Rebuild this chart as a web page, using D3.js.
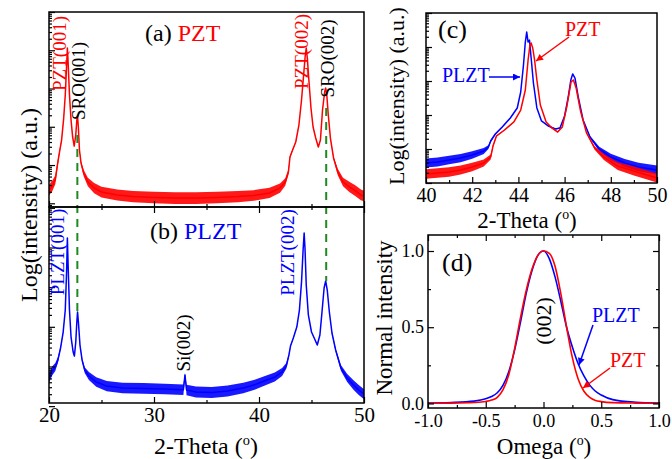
<!DOCTYPE html>
<html>
<head>
<meta charset="utf-8">
<script src="https://cdn.jsdelivr.net/npm/d3@7"></script>
<style>
  body { margin: 0; background: #fff; }
  svg text { font-family: "Liberation Serif", "Times New Roman", serif; }
</style>
</head>
<body>
<svg id="fig" width="672" height="459"></svg>
<script>
// ---------- (a) PZT full 2-theta scan ----------
const pztTheta  = [20.0,20.3,20.6,20.8,21.0,21.2,21.4,21.55,21.68,21.75,21.82,21.95,22.1,22.25,22.4,22.55,22.65,22.72,22.8,22.9,23.05,23.3,23.7,24.3,25.0,26.5,28.0,30.0,32.0,34.0,36.0,38.0,39.5,41.0,42.0,42.5,42.8,42.95,43.2,43.5,43.8,44.05,44.25,44.4,44.5,44.6,44.75,44.95,45.15,45.4,45.65,45.85,46.05,46.25,46.35,46.45,46.6,46.8,47.1,47.5,48.0,48.6,49.2,49.7,50.0];
const pztCounts = [22,28,41,100,219,451,1690,6760,41100,114500,49300,6760,1500,541,314,610,1500,1910,929,247,113,62,36,25,19.7,16.5,15,14.2,13.7,13.7,14.2,15,16,18.6,25,36,66,162,247,400,1110,5010,22500,70800,114500,62700,16700,3090,986,508,296,451,2740,8110,10300,7190,2030,508,153,66,36,26.7,21,16.5,15.5];
// noise spread of the trace (multiplicative, upper/lower envelope)
const pztSpread = [1.38,1.38,1.3,1.22,1.13,1.08,1.04,1,1,1,1,1,1.03,1.04,1.04,1.03,1,1,1,1.04,1.1,1.22,1.3,1.36,1.38,1.4,1.4,1.42,1.42,1.42,1.42,1.4,1.38,1.36,1.32,1.26,1.18,1.08,1.06,1.04,1.03,1,1,1,1,1,1,1,1.02,1.03,1.03,1.02,1,1,1,1,1,1.04,1.1,1.22,1.3,1.36,1.38,1.38,1.38];

// ---------- (b) PLZT full 2-theta scan ----------
const plztTheta  = [20.0,20.3,20.6,20.85,21.1,21.35,21.55,21.68,21.75,21.82,21.95,22.1,22.3,22.42,22.55,22.65,22.72,22.8,22.95,23.15,23.4,23.8,24.5,25.5,27.0,29.0,31.0,32.8,32.95,33.1,34.0,35.5,37.0,38.5,39.5,40.5,41.5,42.2,42.6,42.85,43.0,43.27,43.6,43.85,44.05,44.2,44.3,44.38,44.5,44.7,45.0,45.3,45.55,45.8,46.0,46.2,46.35,46.5,46.7,46.95,47.3,47.8,48.4,49.0,49.5,50.0];
const plztCounts = [51,77,97,146,292,740,2650,27100,173000,36200,2650,553,232,184,414,1320,2360,1320,347,146,81,57.5,40.5,32,28.7,28,27,26,61,25.5,22.7,22,24,28.7,34,43,54,73,103,195,328,522,989,2650,13500,86500,232000,97000,11300,1990,740,493,347,622,2360,9530,14300,8470,2360,698,260,92,51,34,25.5,20];
const plztSpread = [1.34,1.3,1.26,1.18,1.08,1.04,1,1,1,1,1,1.03,1.04,1.04,1.03,1,1,1,1.04,1.1,1.18,1.26,1.32,1.34,1.36,1.36,1.36,1.36,1.12,1.36,1.38,1.38,1.38,1.36,1.34,1.32,1.3,1.26,1.18,1.08,1.04,1.03,1.02,1,1,1,1,1,1,1,1.02,1.03,1.03,1.02,1,1,1,1,1,1.04,1.1,1.18,1.26,1.32,1.34,1.34];

// ---------- (c) 40-50 degree region, both films ----------
const zoomPlztTheta  = [40.0,40.5,41.0,41.5,42.0,42.5,42.7,42.8,43.0,43.3,43.65,43.95,44.1,44.22,44.3,44.36,44.42,44.48,44.56,44.65,44.8,45.0,45.3,45.6,45.8,46.0,46.15,46.27,46.35,46.45,46.6,46.8,47.1,47.5,48.0,48.6,49.2,50.0];
const zoomPlztCounts = [38.8,41.5,47.5,54,66.6,87,114,172,276,444,817,1610,4750,29600,140000,276000,140000,160000,41500,8730,1610,667,474,387,415,935,3160,10700,16100,12200,3160,713,225,100,58,39,29.6,24];
const zoomPlztSpread = [1.36,1.36,1.34,1.32,1.28,1.22,1.14,1.08,1.05,1.04,1.03,1,1,1,1,1,1,1,1,1,1,1.02,1.03,1.03,1.03,1.02,1,1,1,1,1,1.03,1.08,1.16,1.25,1.3,1.34,1.36];
const zoomPztTheta  = [40.0,40.5,41.0,41.5,42.0,42.5,42.8,42.9,43.05,43.4,43.8,44.1,44.3,44.42,44.5,44.55,44.62,44.7,44.8,44.95,45.2,45.45,45.7,45.9,46.1,46.28,46.38,46.5,46.7,46.95,47.3,47.7,48.3,49.0,50.0];
const zoomPztCounts = [18.4,19.7,21,24,29.6,38.8,58,122,241,362,622,1400,5430,41500,114500,131000,93500,41500,10700,1970,622,415,316,444,1840,9350,10700,6220,1220,296,107,58,31.6,22.5,14];
const zoomPztSpread = [1.38,1.38,1.38,1.36,1.34,1.26,1.18,1.08,1.05,1.04,1.03,1,1,1,1,1,1,1,1,1,1.02,1.03,1.03,1.02,1,1,1,1,1,1.04,1.12,1.22,1.3,1.36,1.36];

// ---------- (d) (002) rocking curves, normalised ----------
const omega    = [-1,-0.8,-0.6,-0.5,-0.45,-0.4,-0.35,-0.3,-0.25,-0.2,-0.15,-0.1,-0.05,0,0.05,0.1,0.15,0.2,0.25,0.3,0.35,0.4,0.45,0.5,0.6,0.8,1.0];
const pztRock  = [0.001,0.002,0.006,0.013,0.022,0.04,0.09,0.19,0.36,0.56,0.74,0.88,0.97,1.0,0.985,0.9,0.72,0.5,0.3,0.16,0.08,0.04,0.02,0.012,0.005,0.002,0.001];
const plztRock = [0.003,0.006,0.015,0.03,0.045,0.07,0.12,0.21,0.35,0.53,0.72,0.87,0.97,1.0,0.95,0.83,0.67,0.5,0.37,0.26,0.18,0.12,0.08,0.055,0.025,0.008,0.003];

// SRO reflections marked with dashed guides between (a) and (b)
const sroTheta   = [22.7, 46.4];
const sroFromPzt = [610, 3090];
const sroToPlzt  = [2360, 14300];

// tick values
const thetaMajor = [20, 30, 40, 50], thetaMinor = [25, 35, 45];
const zoomMajor  = [40, 42, 44, 46, 48, 50], zoomMinor = [41, 43, 45, 47, 49];
const omegaMajor = [-1, -0.5, 0, 0.5, 1], omegaMinor = [-0.75, -0.25, 0.25, 0.75];
const normMajor  = [0, 0.5, 1], normMinor = [0.25, 0.75];
const decades    = [1e1, 1e2, 1e3, 1e4, 1e5, 1e6];

const RED = "#ff0000", BLUE = "#0000ff", GREEN = "#1f8a1f";
const svg = d3.select("#fig");

// scales
const xAB = d3.scaleLinear([20, 50], [49, 364]);
const yA  = d3.scaleLog([8, 1e6], [207, 12]);
const yB  = d3.scaleLog([12, 1.05e6], [403, 207]);
const xC  = d3.scaleLinear([40, 50], [426, 657]);
const yC  = d3.scaleLog([10, 1e6], [183, 13]);
const xD  = d3.scaleLinear([-1, 1], [428, 659]);
const yD  = d3.scaleLinear([-0.03, 1.105], [408, 235]);

function minorLog(scale) {
  const [lo, hi] = scale.domain(), out = [];
  decades.concat([1]).forEach(d => { for (let m = 2; m <= 9; m++) { const v = d * m; if (v > lo && v < hi) out.push(v); } });
  return out;
}

const defs = svg.append("defs");
function clip(id, x, y, w, h) {
  defs.append("clipPath").attr("id", id).append("rect").attr("x", x).attr("y", y).attr("width", w).attr("height", h);
}
clip("clipA", 49, 12, 315, 195);
clip("clipB", 49, 207, 315, 196);
clip("clipC", 426, 13, 231, 170);
clip("clipD", 428, 235, 231, 173);

[["arrRed", RED], ["arrBlue", BLUE]].forEach(([id, c]) => {
  defs.append("marker").attr("id", id).attr("viewBox", "0 0 10 10").attr("refX", 10).attr("refY", 5)
    .attr("markerWidth", 9).attr("markerHeight", 7).attr("markerUnits", "userSpaceOnUse").attr("orient", "auto")
    .append("path").attr("d", "M0,0 L10,5 L0,10 Z").attr("fill", c);
});

function axis(gen, tx, ty, vals, size, fmt, pad, fs) {
  const g = svg.append("g").attr("transform", `translate(${tx},${ty})`)
    .call(gen.tickValues(vals).tickSize(-size).tickPadding(pad || 3).tickFormat(fmt || (() => "")));
  g.select(".domain").remove();
  g.selectAll("line").attr("stroke", "#000").attr("stroke-width", 1.2);
  g.selectAll("text").attr("font-family", "Liberation Serif").attr("font-size", fs || 20).attr("fill", "#000");
  return g;
}

// noisy scan: envelope band plus centre trace
function scan(x, y, theta, counts, spread, color, clipId) {
  const pts = theta.map((t, i) => ({ t, c: counts[i], s: spread[i] }));
  const g = svg.append("g").attr("clip-path", `url(#${clipId})`);
  g.append("path").datum(pts).attr("fill", color).attr("fill-opacity", 0.9)
    .attr("d", d3.area().x(d => x(d.t)).y0(d => y(d.c / d.s)).y1(d => y(d.c * d.s)));
  g.append("path").datum(pts).attr("fill", "none").attr("stroke", color).attr("stroke-width", 1.5)
    .attr("stroke-linejoin", "round").attr("d", d3.line().x(d => x(d.t)).y(d => y(d.c)));
}

function vtext(x, y, str, size, color) {
  return svg.append("text").attr("transform", `translate(${x},${y}) rotate(-90)`)
    .attr("text-anchor", "middle").attr("font-size", size).attr("fill", color).text(str);
}

function degTitle(x, y, label, size) {
  const t = svg.append("text").attr("x", x).attr("y", y).attr("text-anchor", "middle").attr("font-size", size).attr("fill", "#000");
  t.append("tspan").text(label + " (");
  t.append("tspan").attr("font-size", size * 0.6).attr("dy", -size * 0.38).text("o");
  t.append("tspan").attr("dy", size * 0.38).text(")");
  return t;
}

// ---------- curves ----------
scan(xAB, yA, pztTheta, pztCounts, pztSpread, RED, "clipA");
scan(xAB, yB, plztTheta, plztCounts, plztSpread, BLUE, "clipB");
scan(xC, yC, zoomPlztTheta, zoomPlztCounts, zoomPlztSpread, BLUE, "clipC");
scan(xC, yC, zoomPztTheta, zoomPztCounts, zoomPztSpread, RED, "clipC");

const rock = (vals) => omega.map((o, i) => ({ o, v: vals[i] }));
const gD = svg.append("g").attr("clip-path", "url(#clipD)");
gD.append("path").datum(rock(plztRock)).attr("fill", "none").attr("stroke", BLUE).attr("stroke-width", 1.6)
  .attr("d", d3.line().curve(d3.curveMonotoneX).x(d => xD(d.o)).y(d => yD(d.v)));
gD.append("path").datum(rock(pztRock)).attr("fill", "none").attr("stroke", RED).attr("stroke-width", 1.6)
  .attr("d", d3.line().curve(d3.curveMonotoneX).x(d => xD(d.o)).y(d => yD(d.v)));

// dashed SRO guides
sroTheta.forEach((t, i) => {
  svg.append("line").attr("x1", xAB(t)).attr("x2", xAB(t))
    .attr("y1", yA(sroFromPzt[i])).attr("y2", yB(sroToPlzt[i]))
    .attr("stroke", GREEN).attr("stroke-width", 2).attr("stroke-dasharray", "8,6");
});

// ---------- axes ----------
// (a)
axis(d3.axisLeft(yA), 49, 0, decades, 6);
axis(d3.axisLeft(yA), 49, 0, minorLog(yA), 3);
axis(d3.axisBottom(xAB), 0, 207, thetaMajor, 6);
axis(d3.axisBottom(xAB), 0, 207, thetaMinor, 3);
// (b)
axis(d3.axisLeft(yB), 49, 0, decades, 6);
axis(d3.axisLeft(yB), 49, 0, minorLog(yB), 3);
axis(d3.axisTop(xAB), 0, 207, thetaMajor, 6);
axis(d3.axisTop(xAB), 0, 207, thetaMinor, 3);
axis(d3.axisBottom(xAB), 0, 403, thetaMajor, 6, d => d, 4, 21);
axis(d3.axisBottom(xAB), 0, 403, thetaMinor, 3);
// (c)
axis(d3.axisLeft(yC), 426, 0, decades, 6);
axis(d3.axisLeft(yC), 426, 0, minorLog(yC), 3);
axis(d3.axisBottom(xC), 0, 183, zoomMajor, 6, d => d, 5, 20);
axis(d3.axisBottom(xC), 0, 183, zoomMinor, 3);
// (d)
axis(d3.axisLeft(yD), 428, 0, normMajor, 6, d => d.toFixed(1), 4, 18);
axis(d3.axisLeft(yD), 428, 0, normMinor, 3);
axis(d3.axisRight(yD), 659, 0, normMajor, 6);
axis(d3.axisRight(yD), 659, 0, normMinor, 3);
axis(d3.axisBottom(xD), 0, 408, omegaMajor, 6, d => d.toFixed(1), 6, 18);
axis(d3.axisBottom(xD), 0, 408, omegaMinor, 3);
axis(d3.axisTop(xD), 0, 235, omegaMajor, 6);
axis(d3.axisTop(xD), 0, 235, omegaMinor, 3);

// frames
[[49, 12, 315, 195], [49, 207, 315, 196], [426, 13, 231, 170], [428, 235, 231, 173]].forEach(([x, y, w, h]) => {
  svg.append("rect").attr("x", x).attr("y", y).attr("width", w).attr("height", h)
    .attr("fill", "none").attr("stroke", "#000").attr("stroke-width", 1.5);
});

// ---------- axis titles ----------
vtext(37, 205, "Log(intensity) (a.u.)", 24, "#000");
degTitle(206, 454, "2-Theta", 24);
vtext(404, 96, "Log(intensity) (a.u.)", 22, "#000");
degTitle(527, 228, "2-Theta", 23);
vtext(392, 318, "Normal intensity", 23, "#000");
degTitle(544, 454, "Omega", 23);

// ---------- panel labels ----------
const ta = svg.append("text").attr("x", 145).attr("y", 41).attr("font-size", 24).attr("fill", "#000");
ta.append("tspan").text("(a) ");
ta.append("tspan").attr("fill", RED).text("PZT");
const tb = svg.append("text").attr("x", 150).attr("y", 239).attr("font-size", 24).attr("fill", "#000");
tb.append("tspan").text("(b) ");
tb.append("tspan").attr("fill", BLUE).text("PLZT");
svg.append("text").attr("x", 438).attr("y", 38).attr("font-size", 26).text("(c)");
svg.append("text").attr("x", 442).attr("y", 271).attr("font-size", 26).text("(d)");

// peak assignments
vtext(65.5, 53.5, "PZT(001)", 19, RED);
vtext(84.5, 81, "SRO(001)", 19, "#000");
vtext(307.5, 51.5, "PZT(002)", 19, RED);
vtext(333.5, 58.5, "SRO(002)", 19, "#000");
vtext(63.5, 252, "PLZT(001)", 19, BLUE);
vtext(293.5, 252.5, "PLZT(002)", 19, BLUE);
vtext(189.5, 343, "Si(002)", 19, "#000");
vtext(551, 321, "(002)", 22, "#000");

// legends with arrows in (c) and (d)
svg.append("text").attr("x", 565).attr("y", 36).attr("font-size", 20).attr("fill", RED).text("PZT");
svg.append("line").attr("x1", 569).attr("y1", 37).attr("x2", 536).attr("y2", 61)
  .attr("stroke", RED).attr("stroke-width", 1.5).attr("marker-end", "url(#arrRed)");
svg.append("text").attr("x", 442).attr("y", 82).attr("font-size", 20).attr("fill", BLUE).text("PLZT");
svg.append("line").attr("x1", 489).attr("y1", 77).attr("x2", 520).attr("y2", 77)
  .attr("stroke", BLUE).attr("stroke-width", 1.5).attr("marker-end", "url(#arrBlue)");
svg.append("text").attr("x", 592).attr("y", 322).attr("font-size", 20).attr("fill", BLUE).text("PLZT");
svg.append("line").attr("x1", 593).attr("y1", 325).attr("x2", 579).attr("y2", 365)
  .attr("stroke", BLUE).attr("stroke-width", 1.5).attr("marker-end", "url(#arrBlue)");
svg.append("text").attr("x", 610).attr("y", 367).attr("font-size", 20).attr("fill", RED).text("PZT");
svg.append("line").attr("x1", 610).attr("y1", 368).attr("x2", 583).attr("y2", 388)
  .attr("stroke", RED).attr("stroke-width", 1.5).attr("marker-end", "url(#arrRed)");
</script>
</body>
</html>
